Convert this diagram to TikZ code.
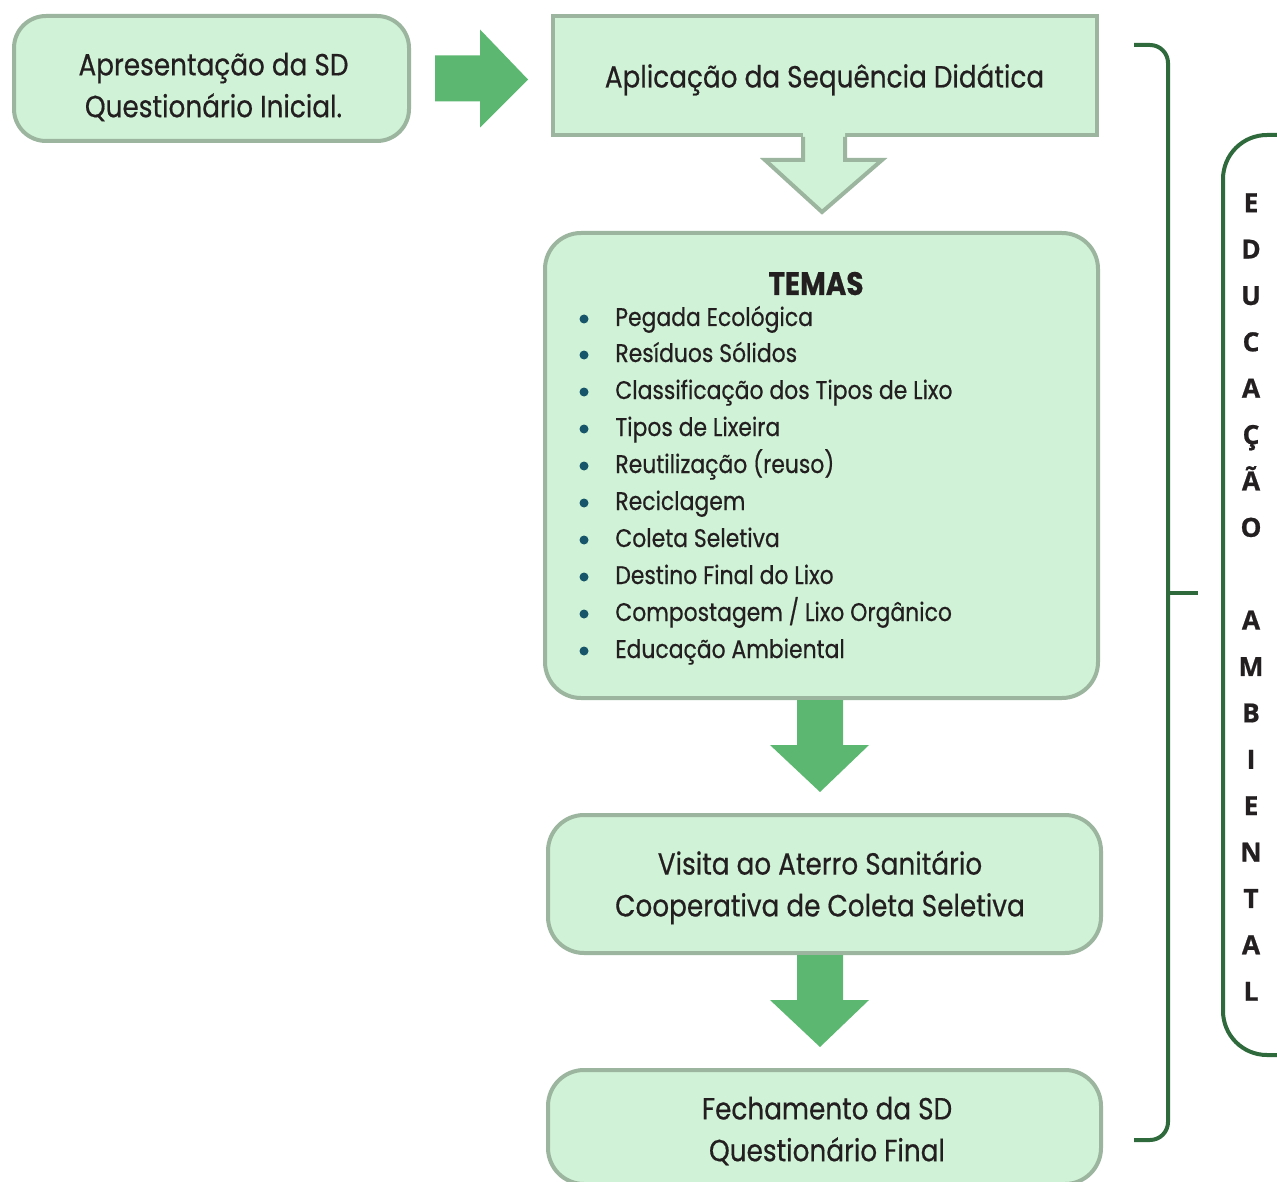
\documentclass[tikz,border=0pt]{standalone}
\usepackage{fontspec}
\setmainfont{Poppins}[FakeStretch=0.86, FakeBold=0.5]
\newfontfamily\lettersfont{Open Sans}[FakeBold=0.8]
\usetikzlibrary{calc}
\newlength\pu
\setlength\pu{0.02cm}
\definecolor{boxfill}{HTML}{D0F2D6}
\definecolor{boxline}{HTML}{9BB59E}
\definecolor{arrowgreen}{HTML}{5CB870}
\definecolor{darkgreen}{HTML}{2F6A3C}
\definecolor{dotteal}{HTML}{17566A}
\definecolor{inkc}{HTML}{231F20}
\tikzset{
  stepbox/.style={draw=boxline, fill=boxfill, line width=4\pu, rounded corners=32\pu, inner sep=0pt},
  flatbox/.style={stepbox, rounded corners=0pt},
  boxtext/.style={text=inkc, align=center, inner sep=0pt, font=\fontsize{17.4}{23.8}\selectfont},
  blockarrow/.style={fill=arrowgreen},
  hollowarrow/.style={fill=boxfill},
  hollowline/.style={draw=boxline, line width=4\pu, line join=miter},
  brace/.style={draw=darkgreen, line width=4\pu},
  temaitem/.style={anchor=base west, inner sep=0pt, text=inkc, font=\fontsize{14.5}{16}\selectfont},
}
\begin{document}
\begin{tikzpicture}[x=1\pu, y=-1\pu]
    \useasboundingbox (0,0) rectangle (1277,1182);
    \clip (0,0) rectangle (1277,1182);
    % boxes
    \node[stepbox, minimum width=395\pu, minimum height=125\pu] (apres) at (211.5,78.5) {};
    \node[boxtext] (apreslabel) at (213.5,87) {Apresentação da SD\\Questionário Inicial.};
    \node[flatbox, minimum width=544\pu, minimum height=119\pu] (aplic) at (825,75.5) {};
    \node[boxtext] (apliclabel) at (824.5,79.5) {Aplicação da Sequência Didática};
    \node[stepbox, rounded corners=36\pu, minimum width=553\pu, minimum height=465\pu] (temas) at (821.5,465.5) {};
    \node[stepbox, rounded corners=36\pu, minimum width=553\pu, minimum height=138\pu] (visita) at (824.5,884) {};
    \node[boxtext] (visitalabel) at (820,887.5) {Visita ao Aterro Sanitário\\Cooperativa de Coleta Seletiva};
    \node[stepbox, rounded corners=36\pu, minimum width=553\pu, minimum height=114\pu] (fecha) at (824.5,1127) {};
    \node[boxtext] (fechalabel) at (827,1131) {Fechamento da SD\\Questionário Final};
    % list of themes
    \node[anchor=base, inner sep=0pt, text=inkc, font=\fontsize{18.5}{20}\selectfont\bfseries] (titulo) at (816,295) {TEMAS};
    \fill[dotteal] (584,319) circle (4.5);
    \node[temaitem] (t1) at (615,326) {Pegada Ecológica};
    \fill[dotteal] (584,355) circle (4.5);
    \node[temaitem] (t2) at (615,362) {Resíduos Sólidos};
    \fill[dotteal] (584,392) circle (4.5);
    \node[temaitem] (t3) at (615,399) {Classificação dos Tipos de Lixo};
    \fill[dotteal] (584,429) circle (4.5);
    \node[temaitem] (t4) at (615,436) {Tipos de Lixeira};
    \fill[dotteal] (584,466) circle (4.5);
    \node[temaitem] (t5) at (615,473) {Reutilização (reuso)};
    \fill[dotteal] (584,503) circle (4.5);
    \node[temaitem] (t6) at (615,510) {Reciclagem};
    \fill[dotteal] (584,540) circle (4.5);
    \node[temaitem] (t7) at (615,547) {Coleta Seletiva};
    \fill[dotteal] (584,577) circle (4.5);
    \node[temaitem] (t8) at (615,584) {Destino Final do Lixo};
    \fill[dotteal] (584,614) circle (4.5);
    \node[temaitem] (t9) at (615,621) {Compostagem / Lixo Orgânico};
    \fill[dotteal] (584,651) circle (4.5);
    \node[temaitem] (t10) at (615,658) {Educação Ambiental};
    % arrows
    \fill[blockarrow] ($(apres.east)+(24,-23)$) -- ++(45,0) -- ++(0,-26) -- ($(aplic.west)+(-23,4)$)
        -- ($(apres.east)+(69,49)$) -- ++(0,-26) -- ++(-45,0) -- cycle;
    \fill[hollowarrow] ($(aplic.south)+(-22,-6)$) -- ++(0,29) -- ++(-38,0) -- ($(aplic.south)+(-3,75)$)
        -- ($(aplic.south)+(57,23)$) -- ++(-37,0) -- ++(0,-29) -- cycle;
    \draw[hollowline] ($(aplic.south)+(-22,0)$) -- ++(0,23) -- ++(-38,0) -- ($(aplic.south)+(-3,75)$)
        -- ($(aplic.south)+(57,23)$) -- ++(-37,0) -- ++(0,-23);
    \fill[blockarrow] ($(temas.south)+(-24.5,0)$) -- ++(0,45) -- ++(-27,0) -- ($(temas.south)+(-1.5,92)$)
        -- ($(temas.south)+(47.5,45)$) -- ++(-26,0) -- ++(0,-45) -- cycle;
    \fill[blockarrow] ($(visita.south)+(-27.5,0)$) -- ++(0,45) -- ++(-27,0) -- ($(visita.south)+(-4.5,92)$)
        -- ($(visita.south)+(44.5,45)$) -- ++(-26,0) -- ++(0,-45) -- cycle;
    % brace and side label
    \coordinate (bracetop) at (1134,45);
    \coordinate (bracebot) at (1134,1140);
    \draw[brace, rounded corners=18\pu] (bracetop) -- (1168,45) -- (1168,1140) -- (bracebot);
    \draw[brace] (1168,593) -- (1198,593);
    \node[draw=darkgreen, line width=4\pu, rounded corners=44\pu, minimum width=120\pu, minimum height=920\pu,
        anchor=north west, inner sep=0pt] (sidebox) at (1221,133) {};
    \node[align=center, inner sep=0pt, text=inkc, font=\fontsize{15}{26.4}\selectfont\lettersfont\bfseries] (sidelabel) at (1251,597)
        {E\\D\\U\\C\\A\\Ç\\Ã\\O\\ \\A\\M\\B\\I\\E\\N\\T\\A\\L};
\end{tikzpicture}
\end{document}
